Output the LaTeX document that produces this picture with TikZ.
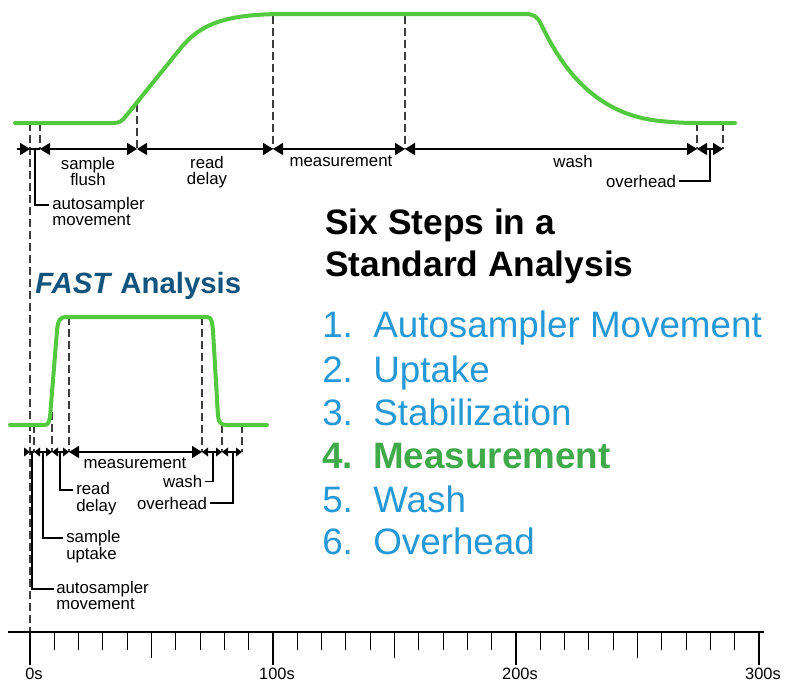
\documentclass[tikz,border=0pt]{standalone}
\usepackage{fontspec}
\setmainfont{Liberation Sans}
\usetikzlibrary{arrows.meta,calc}
\definecolor{curvegreen}{RGB}{82,201,62}
\definecolor{stepblue}{RGB}{38,152,214}
\definecolor{stepgreen}{RGB}{64,170,74}
\definecolor{fastblue}{RGB}{18,84,126}
\definecolor{guidegray}{RGB}{60,60,60}
\newcommand{\stackleft}[2]{\begin{tabular}[t]{@{}l@{}}#1\\#2\end{tabular}}
\newcommand{\stackcenter}[2]{\begin{tabular}[t]{@{}c@{}}#1\\#2\end{tabular}}
\begin{document}
\begin{tikzpicture}[x=0.75pt,y=-0.75pt,
  signal/.style={draw=curvegreen,line width=3pt,line join=round,line cap=round},
  guide/.style={draw=guidegray,line width=0.9pt,dash pattern=on 6pt off 3pt},
  dimbig/.style={line width=1.5pt,{Triangle[length=7.5pt,width=9pt]}-{Triangle[length=7.5pt,width=9pt]}},
  dimsmall/.style={line width=1.1pt,{Triangle[length=4.5pt,width=6.5pt]}-{Triangle[length=4.5pt,width=6.5pt]}},
  prebig/.style={line width=1.5pt,-{Triangle[length=7.5pt,width=9pt]}},
  presmall/.style={line width=1.1pt,-{Triangle[length=4.5pt,width=6.5pt]}},
  plainseg/.style={line width=1.2pt},
  leader/.style={draw=black,line width=0.9pt},
  lbl/.style={font=\fontsize{12.6}{12}\selectfont,inner sep=0pt},
  ticklbl/.style={font=\fontsize{12.3}{12}\selectfont,inner sep=0pt,anchor=base},
  tickmark/.style={line width=0.8pt},
  stepnum/.style={font=\fontsize{27.6}{32}\selectfont,text=stepblue,inner sep=0pt,anchor=base west},
  steptext/.style={font=\fontsize{27.6}{32}\selectfont,text=stepblue,inner sep=0pt,anchor=base west},
  stepbold/.style={font=\fontsize{27.6}{32}\selectfont\bfseries,text=stepgreen,inner sep=0pt,anchor=base west},
  heading/.style={font=\fontsize{26.5}{31}\selectfont\bfseries,inner sep=0pt,anchor=base west},
]
% canvas
\path[fill=white,use as bounding box] (0,0) rectangle (786,683);

% ---------- guides (dashed) ----------
\draw[guide] (30,123) -- (30,632);
\draw[guide] (40,123) -- (40,149);
\draw[guide] (137,104) -- (137,149);
\draw[guide] (273,16) -- (273,149);
\draw[guide] (405,16) -- (405,149);
\draw[guide] (697,123) -- (697,149);
\draw[guide] (723,123) -- (723,149);
\draw[guide] (34,425) -- (34,452);
\draw[guide] (52,412) -- (52,452);
\draw[guide] (69,317) -- (69,452);
\draw[guide] (202,317) -- (202,452);
\draw[guide] (222,425) -- (222,452);
\draw[guide] (242,425) -- (242,452);

% ---------- signal curves ----------
\draw[signal] (15,123) -- (113,123) .. controls (120,123) and (122,121) .. (126,116)
  -- (180,49) .. controls (200,24) and (225,14) .. (285,14) -- (525,14)
  .. controls (533,14) and (537,16) .. (541,24)
  .. controls (565,75) and (600,115) .. (660,121)
  .. controls (680,123) and (690,123) .. (700,123) -- (735,123);
\draw[signal] (10,425) -- (44,425) .. controls (48,425) and (49,423) .. (50,417)
  -- (57,331) .. controls (58,320) and (60,317) .. (66,317) -- (207,317)
  .. controls (211,317) and (212,320) .. (213,331) -- (218,416)
  .. controls (219,423) and (221,425) .. (227,425) -- (267,425);

% ---------- top dimension row ----------
\coordinate (Ta) at (17,149);
\coordinate (T0) at (30,149);
\coordinate (T1) at (40,149);
\coordinate (T2) at (137,149);
\coordinate (T3) at (273,149);
\coordinate (T4) at (405,149);
\coordinate (T5) at (697,149);
\coordinate (T6) at (723,149);
\coordinate (TL0) at (35,149);
\coordinate (TL5) at (710,149);
\draw[prebig] (Ta) -- (T0);
\draw[plainseg] (T0) -- (T1);
\draw[dimbig] (T1) -- (T2);
\draw[dimbig] (T2) -- (T3);
\draw[dimbig] (T3) -- (T4);
\draw[dimbig] (T4) -- (T5);
\draw[dimbig] (T5) -- (T6);

\node[lbl,anchor=base] (sflush) at (88,169) {\stackcenter{sample}{flush}};
\node[lbl,anchor=base] (rdelay) at (207,168) {\stackcenter{read}{delay}};
\node[lbl,anchor=base] (meas) at (341,166.5) {measurement};
\node[lbl,anchor=base] (wash) at (573,167.5) {wash};
\node[lbl,anchor=base east,inner xsep=2pt] (ovh) at (679,187) {overhead};
\node[lbl,anchor=base west] (amove) at (52,209.5) {\stackleft{autosampler}{movement}};
\draw[leader] (TL0) |- ($(amove.base west)+(-3,-4.5)$);
\draw[leader] (TL5) |- (ovh.east);

% ---------- FAST inset dimension row ----------
\coordinate (Ia) at (24,452);
\coordinate (I0) at (30,452);
\coordinate (I1) at (34,452);
\coordinate (I2) at (52,452);
\coordinate (I3) at (69,452);
\coordinate (I4) at (202,452);
\coordinate (I5) at (222,452);
\coordinate (I6) at (242,452);
\coordinate (IL0) at (32,452);
\coordinate (IL1) at (43,452);
\coordinate (IL2) at (60,452);
\coordinate (IL4) at (213,452);
\coordinate (IL5) at (233,452);
\draw[presmall] (Ia) -- (I0);
\draw[plainseg] (I0) -- (I1);
\draw[dimsmall] (I1) -- (I2);
\draw[dimsmall] (I2) -- (I3);
\draw[dimbig,line width=1.2pt] (I3) -- (I4);
\draw[dimsmall] (I4) -- (I5);
\draw[dimsmall] (I5) -- (I6);

\node[lbl,anchor=base] (imeas) at (135,468.5) {measurement};
\node[lbl,anchor=base east,inner xsep=1.5pt] (iwash) at (204.5,487.5) {wash};
\node[lbl,anchor=base east,inner xsep=2pt] (iovh) at (210,509) {overhead};
\node[lbl,anchor=base west] (ird) at (76,494.5) {\stackleft{read}{delay}};
\node[lbl,anchor=base west] (isu) at (66,542.5) {\stackleft{sample}{uptake}};
\node[lbl,anchor=base west] (iam) at (56,593.5) {\stackleft{autosampler}{movement}};
\draw[leader] (IL0) |- ($(iam.base west)+(-2,-4.5)$);
\draw[leader] (IL1) |- ($(isu.base west)+(-3,-4.5)$);
\draw[leader] (IL2) |- ($(ird.base west)+(-3,-4.5)$);
\draw[leader] (IL4) |- (iwash.east);
\draw[leader] (IL5) |- (iovh.east);

% ---------- headings ----------
\node[font=\fontsize{22}{26}\selectfont\bfseries,text=fastblue,inner sep=0pt,anchor=base west]
  (fast) at (35,293) {\textit{FAST} Analysis};
\node[heading] (six1) at (325,234) {Six Steps in a};
\node[heading] (six2) at (325,276) {Standard Analysis};

% ---------- step list ----------
\node[stepnum] (n1) at (322,337) {1.};
\node[steptext] (s1) at (373,337) {Autosampler Movement};
\node[stepnum] (n2) at (322,382) {2.};
\node[steptext] (s2) at (373,382) {Uptake};
\node[stepnum] (n3) at (322,425) {3.};
\node[steptext] (s3) at (373,425) {Stabilization};
\node[stepbold] (n4) at (322,468) {4.};
\node[stepbold] (s4) at (373,468) {Measurement};
\node[stepnum] (n5) at (322,512) {5.};
\node[steptext] (s5) at (373,512) {Wash};
\node[stepnum] (n6) at (322,554) {6.};
\node[steptext] (s6) at (373,554) {Overhead};

% ---------- time axis ----------
\coordinate (axL) at (8,632);
\coordinate (axR) at (764,632);
\draw[line width=2pt] (axL) -- (axR);
\foreach \i in {0,...,30}{
  \pgfmathsetmacro{\tx}{30+24.3*\i}
  \pgfmathsetmacro{\tl}{ifthenelse(mod(\i,10)==0,33,ifthenelse(mod(\i,5)==0,26,18))}
  \draw[tickmark] ({\tx},632) -- ({\tx},{632+\tl});
}
\node[ticklbl] (l0) at (34,679.5) {0s};
\node[ticklbl] (l100) at (277,679.5) {100s};
\node[ticklbl] (l200) at (520,679.5) {200s};
\node[ticklbl] (l300) at (763,679.5) {300s};
\end{tikzpicture}
\end{document}
